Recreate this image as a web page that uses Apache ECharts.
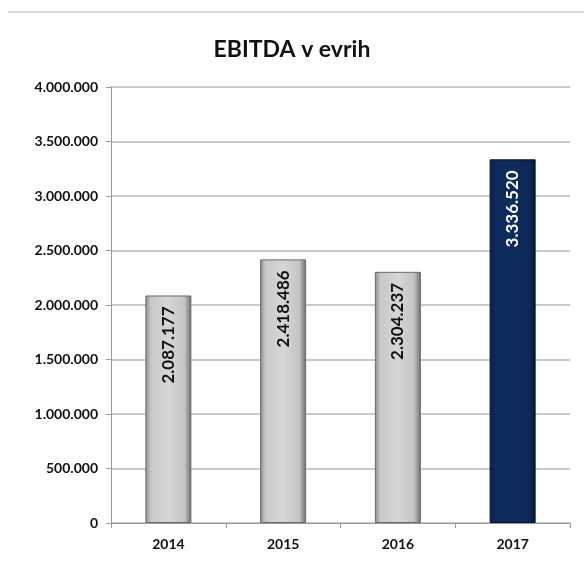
<!DOCTYPE html>
<html>
<head>
<meta charset="utf-8">
<script src="https://cdn.jsdelivr.net/npm/echarts@6/dist/echarts.min.js"></script>
<style>
  html, body { margin: 0; padding: 0; background: #fff; }
  #chart { width: 584px; height: 565px; }
</style>
</head>
<body>
<div id="chart"></div>
<script>
// podatki
var years = ['2014', '2015', '2016', '2017'];
var ebitda = [2087177, 2418486, 2304237, 3336520];
var highlightYear = '2017';

function fmt(v) {
    return String(v).replace(/\B(?=(\d{3})+(?!\d))/g, '.');
}

var grayBar = new echarts.graphic.LinearGradient(0, 0, 1, 0, [
    { offset: 0, color: '#8c8c8c' },
    { offset: 0.12, color: '#c8c8c8' },
    { offset: 0.5, color: '#d6d6d6' },
    { offset: 0.85, color: '#c4c4c4' },
    { offset: 1, color: '#6e6e6e' }
]);
var navyBar = new echarts.graphic.LinearGradient(0, 0, 1, 0, [
    { offset: 0, color: '#0a1f45' },
    { offset: 0.12, color: '#0d2a5c' },
    { offset: 0.5, color: '#0e2b5e' },
    { offset: 0.88, color: '#0c2756' },
    { offset: 1, color: '#06152f' }
]);

var chart = echarts.init(document.getElementById('chart'));
chart.setOption({
    animation: false,
    textStyle: { fontFamily: 'Lato' },
    title: {
        text: 'EBITDA v evrih',
        left: 'center',
        top: 33,
        textStyle: { fontSize: 23, fontWeight: 'bold', color: '#111', fontFamily: 'Lato' }
    },
    graphic: [{
        type: 'line',
        shape: { x1: 8, y1: 12, x2: 584, y2: 12 },
        style: { stroke: '#d9d9d9', lineWidth: 2 }
    }],
    grid: { left: 111, right: 14, top: 87, bottom: 42, containLabel: false },
    xAxis: {
        type: 'category',
        data: years,
        axisLine: { lineStyle: { color: '#9a9a9a' } },
        axisTick: { show: true, alignWithLabel: false, length: 5, lineStyle: { color: '#9a9a9a' } },
        axisLabel: { color: '#111', fontWeight: 'bold', fontSize: 14, margin: 14 }
    },
    yAxis: {
        type: 'value',
        min: 0,
        max: 4000000,
        interval: 500000,
        axisLine: { show: true, lineStyle: { color: '#9a9a9a' } },
        axisTick: { show: true, inside: false, length: 5, lineStyle: { color: '#9a9a9a' } },
        splitLine: { lineStyle: { color: '#b8b8b8', width: 1.5 } },
        axisLabel: { color: '#111', fontWeight: 'bold', fontSize: 14, margin: 13, formatter: fmt }
    },
    series: [{
        type: 'bar',
        barWidth: 46,
        data: ebitda.map(function (v, i) {
            var hl = years[i] === highlightYear;
            return {
                value: v,
                itemStyle: { color: hl ? navyBar : grayBar, borderColor: hl ? '#05122a' : '#6a6a6a', borderWidth: 1 },
                label: { color: hl ? '#fff' : '#111' }
            };
        }),
        label: {
            show: true,
            position: 'insideTop',
            distance: 11,
            rotate: 90,
            align: 'right',
            verticalAlign: 'middle',
            fontWeight: 'bold',
            fontSize: 17,
            formatter: function (p) { return fmt(p.value); }
        }
    }]
});
</script>
</body>
</html>
